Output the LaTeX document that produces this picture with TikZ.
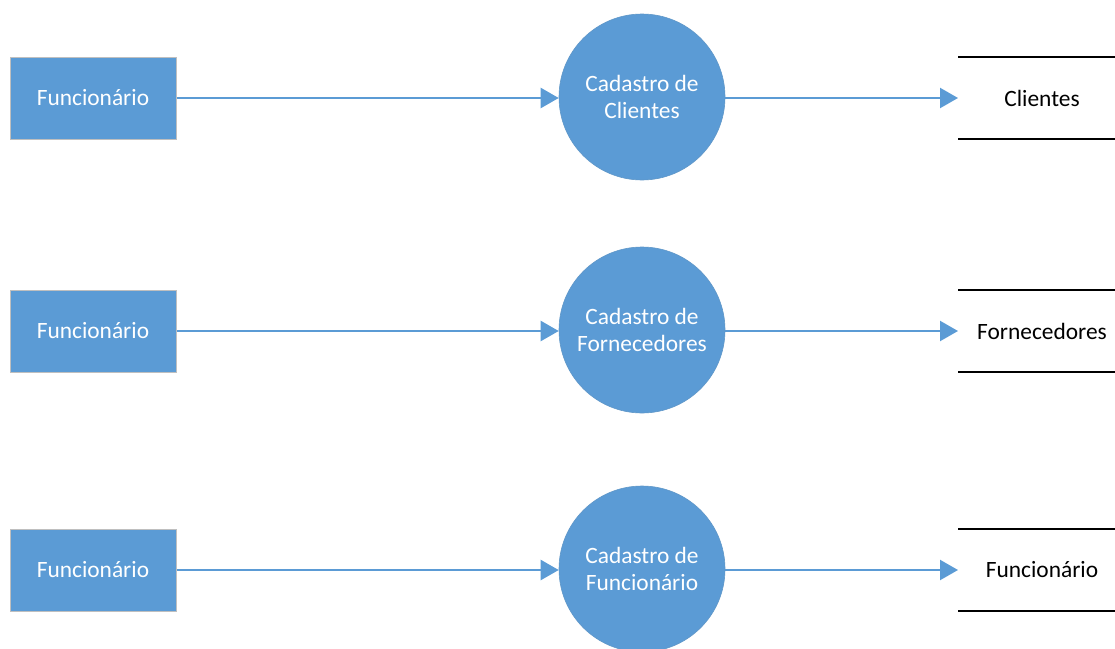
\documentclass[tikz,border=0pt]{standalone}
\usepackage{fontspec}
\setmainfont{Carlito}
\usetikzlibrary{arrows.meta}
\definecolor{officeblue}{HTML}{5B9BD5}
\definecolor{edgegray}{HTML}{BFBFBF}
\begin{document}
\begin{tikzpicture}[x=1pt,y=-1pt,
  ent/.style={draw=edgegray, line width=1pt, fill=officeblue, minimum width=166pt, minimum height=82pt, inner sep=0pt, text=white, font=\fontsize{23.4}{27}\selectfont},
  proc/.style={circle, fill=officeblue, draw=officeblue!85!gray, line width=0.6pt, minimum size=166pt, inner sep=0pt, text=white, align=center, font=\fontsize{23.4}{27}\selectfont},
  flow/.style={draw=officeblue, line width=2.3pt, -{Triangle[length=18pt,width=20pt]}},
  storeline/.style={draw=black, line width=1.3pt},
  storetext/.style={inner sep=0pt, font=\fontsize{23.4}{27}\selectfont}
]
\useasboundingbox (0,0) rectangle (1115,648);
% row 1
\node[ent] (e1) at (93,98) {Funcionário};
\node[proc] (p1) at (642,97) {Cadastro de\\Clientes};
\coordinate (s1) at (958,98);
\node[storetext] (t1) at (1042,98) {Clientes};
\draw[storeline] (958,57) -- (1115,57);
\draw[storeline] (958,139) -- (1115,139);
\draw[flow] (e1.east) -- (p1.west |- e1.east);
\draw[flow] (p1.east |- s1) -- (s1);
% row 2
\node[ent] (e2) at (93,331) {Funcionário};
\node[proc] (p2) at (642,330) {Cadastro de\\Fornecedores};
\coordinate (s2) at (958,331);
\node[storetext] (t2) at (1042,331) {Fornecedores};
\draw[storeline] (958,290) -- (1115,290);
\draw[storeline] (958,372) -- (1115,372);
\draw[flow] (e2.east) -- (p2.west |- e2.east);
\draw[flow] (p2.east |- s2) -- (s2);
% row 3
\node[ent] (e3) at (93,570) {Funcionário};
\node[proc] (p3) at (642,569) {Cadastro de\\Funcionário};
\coordinate (s3) at (958,570);
\node[storetext] (t3) at (1042,570) {Funcionário};
\draw[storeline] (958,529) -- (1115,529);
\draw[storeline] (958,611) -- (1115,611);
\draw[flow] (e3.east) -- (p3.west |- e3.east);
\draw[flow] (p3.east |- s3) -- (s3);
\end{tikzpicture}
\end{document}
